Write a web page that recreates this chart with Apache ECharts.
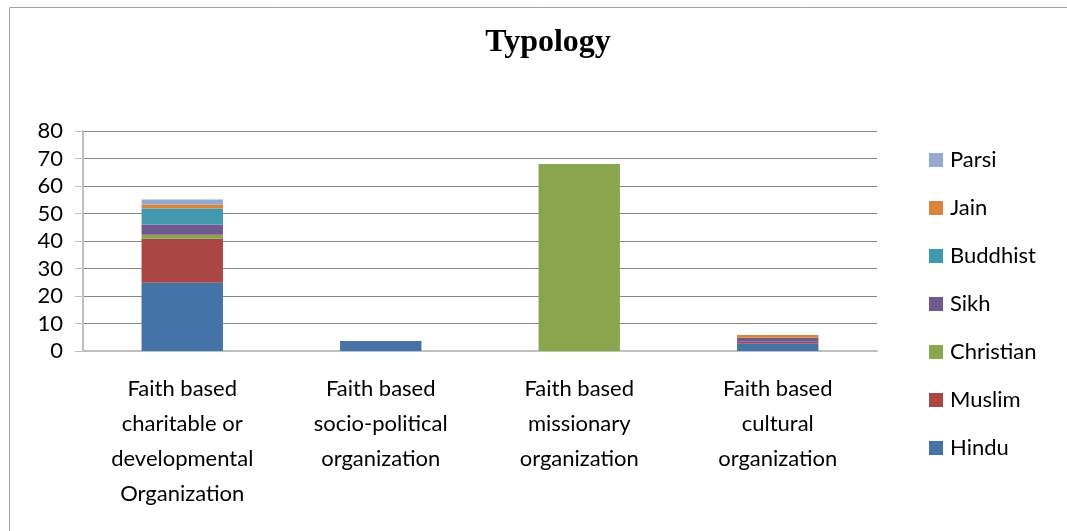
<!DOCTYPE html>
<html>
<head>
<meta charset="utf-8">
<script src="https://cdn.jsdelivr.net/npm/echarts@6/dist/echarts.min.js"></script>
<style>html,body{margin:0;padding:0;background:#fff}#c{width:1067px;height:531px}</style>
</head>
<body>
<div id="c"></div>
<script>
const categories = [
  "Faith based\ncharitable or\ndevelopmental\nOrganization",
  "Faith based\nsocio-political\norganization",
  "Faith based\nmissionary\norganization",
  "Faith based\ncultural\norganization"
];
const hindu = [24.8, 3.6, 0, 2.8];
const muslim = [16, 0, 0, 0.6];
const christian = [1.5, 0, 68, 0];
const sikh = [3.7, 0, 0, 1.4];
const buddhist = [5.8, 0, 0, 0];
const jain = [1.5, 0, 0, 1];
const parsi = [1.8, 0, 0, 0];
const legendOrder = ["Parsi", "Jain", "Buddhist", "Sikh", "Christian", "Muslim", "Hindu"];

const seriesDefs = [
  ["Hindu", hindu, "#4572A7"],
  ["Muslim", muslim, "#AA4643"],
  ["Christian", christian, "#89A54E"],
  ["Sikh", sikh, "#71588F"],
  ["Buddhist", buddhist, "#4198AF"],
  ["Jain", jain, "#DB843D"],
  ["Parsi", parsi, "#93A9CF"]
];
const font = "Lato, 'Open Sans', sans-serif";
const chart = echarts.init(document.getElementById('c'), null, {renderer: 'canvas'});
chart.setOption({
  animation: false,
  backgroundColor: '#fff',
  title: {
    text: 'Typology', left: 543, top: 22, textAlign: 'center',
    textStyle: {fontFamily: "'Liberation Serif', serif", fontWeight: 'bold', fontSize: 32, color: '#000'}
  },
  graphic: [{
    type: 'rect', shape: {x: 9.5, y: 7.5, width: 1070, height: 540},
    style: {fill: 'none', stroke: '#a0a0a0', lineWidth: 1}, silent: true
  }],
  legend: {
    orient: 'vertical', left: 929, top: 149, padding: 0,
    data: legendOrder, itemWidth: 14, itemHeight: 14, itemGap: 26,
    icon: 'rect',
    textStyle: {fontFamily: font, fontSize: 22, color: '#000', lineHeight: 22, padding: [0, 0, 0, 2]}
  },
  grid: {left: 83, right: 190, top: 131, bottom: 180},
  xAxis: {
    type: 'category', data: categories,
    axisLine: {lineStyle: {color: '#bfbfbf', width: 2}},
    axisTick: {show: false},
    axisLabel: {fontFamily: font, fontSize: 22, color: '#000', lineHeight: 35, margin: 20, interval: 0}
  },
  yAxis: {
    type: 'value', min: 0, max: 80, interval: 10,
    axisLine: {show: true, lineStyle: {color: '#bfbfbf', width: 2}},
    axisTick: {show: true, length: 8, lineStyle: {color: '#bfbfbf'}},
    splitLine: {lineStyle: {color: '#868686', width: 1}},
    axisLabel: {fontFamily: font, fontSize: 22, color: '#000', margin: 20}
  },
  series: seriesDefs.map(([name, data, color]) => ({
    name, type: 'bar', stack: 'total', data, barWidth: '41%',
    itemStyle: {color}
  }))
});
</script>
</body>
</html>
